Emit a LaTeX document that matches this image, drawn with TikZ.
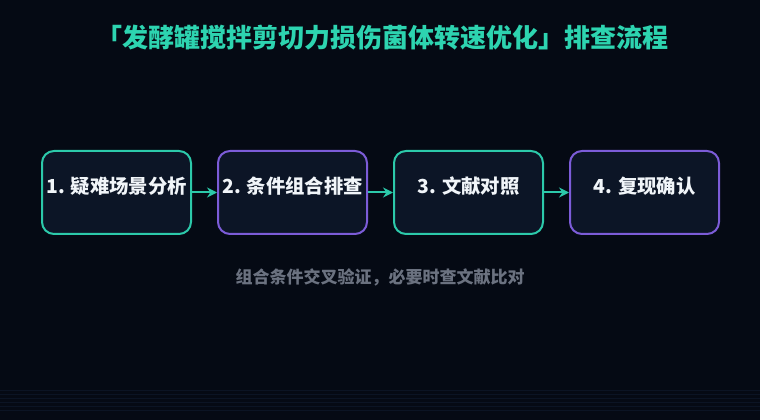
\documentclass[tikz,border=0pt]{standalone}
\usepackage{fontspec}
\setmainfont{Noto Sans CJK SC}
\usetikzlibrary{arrows.meta}
\definecolor{bgdark}{HTML}{050A14}
\definecolor{boxfill}{HTML}{0C1526}
\definecolor{tealline}{HTML}{2CC9AA}
\definecolor{purpline}{HTML}{7C5CD8}
\definecolor{titleteal}{HTML}{2DD4B0}
\definecolor{notegray}{HTML}{6B7280}
\definecolor{boxtext}{HTML}{F1F5F9}
\definecolor{gridline}{HTML}{0B1424}

\begin{document}
\begin{tikzpicture}[x=0.75pt,y=-0.75pt]
\tikzstyle{every node}+=[inner sep=0pt]
\tikzstyle{stepbox}=[fill=boxfill,line width=1.5pt,rounded corners=9pt,minimum width=111.75pt,minimum height=62.25pt]
\tikzstyle{steptext}=[text=boxtext,font=\fontsize{14.5}{17}\selectfont\bfseries]
\tikzstyle{flow}=[draw=tealline,line width=1.5pt,-{Stealth[length=7.5pt,width=7.5pt]}]
\fill [bgdark] (0,0) rectangle (760,420);
\useasboundingbox (0,0) rectangle (760,420);
\foreach \y in {390,394,...,410}
  \draw [gridline,line width=0.5pt] (0,\y) -- (760,\y);
\node (title) [text=titleteal,font=\fontsize{19.5}{23}\selectfont\bfseries] at (382,38) {「发酵罐搅拌剪切力损伤菌体转速优化」排查流程};
\node (b1) [stepbox,draw=tealline] at (116.5,192.5) {};
\node (b2) [stepbox,draw=purpline] at (292.5,192.5) {};
\node (b3) [stepbox,draw=tealline] at (468.5,192.5) {};
\node (b4) [stepbox,draw=purpline] at (644.5,192.5) {};
\node (t1) [steptext] at (116.5,186) {1. 疑难场景分析};
\node (t2) [steptext] at (292.5,186) {2. 条件组合排查};
\node (t3) [steptext] at (468.5,186) {3. 文献对照};
\node (t4) [steptext] at (644.5,186) {4. 复现确认};
\draw [flow] (b1.east) -- (b2.west);
\draw [flow] (b2.east) -- (b3.west);
\draw [flow] (b3.east) -- (b4.west);
\node (note) [text=notegray,font=\fontsize{12.75}{15}\selectfont\bfseries] at (380,277) {组合条件交叉验证，必要时查文献比对};
\end{tikzpicture}
\end{document}
